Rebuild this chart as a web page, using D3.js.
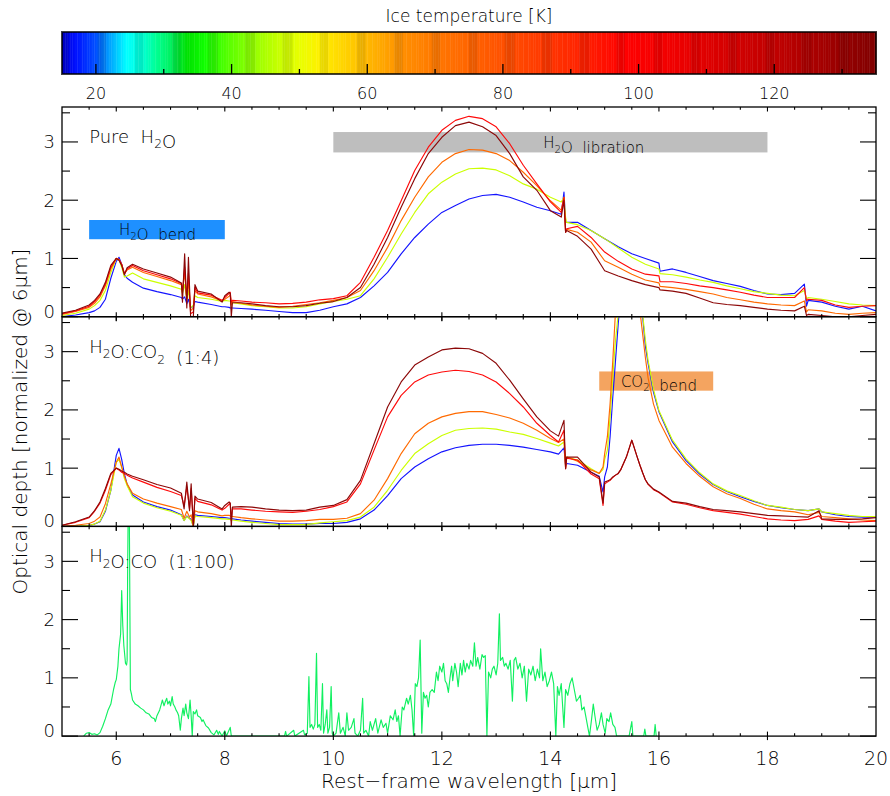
<!DOCTYPE html>
<html><head><meta charset="utf-8">
<script src="https://cdn.jsdelivr.net/npm/d3@7"></script>
<style>
body{margin:0;background:#fff;}
svg{display:block;}
text{font-family:"DejaVu Sans",sans-serif;font-weight:200;fill:#000;white-space:pre;}
</style>
</head><body>
<svg id="chart" width="890" height="796"></svg>
<script>
// ---------------- DATA ----------------
// Colour bar (ice temperature, K)
const cbDomain = [15, 135];
const cbTickLabels = [20, 40, 60, 80, 100, 120];
const cbMinorTicks = [30, 50, 70, 90, 110, 130];

// Axis tick labels
const xTickLabels = [6, 8, 10, 12, 14, 16, 18, 20];
const yTickLabels = [0, 1, 2, 3];
const panelNames = ["Pure  H_2O", "H_2O:CO_2  (1:4)", "H_2O:CO  (1:100)"];
const seriesNames = ["blue", "yellow", "orange", "red", "darkred"];

// Panel 1 : pure H2O
const wlPure = [5.0,5.25,5.5,5.6,5.7,5.8,5.9,6.0,6.05,6.1,
  6.15,6.2,6.3,6.5,6.75,7.0,7.2,7.22,7.26,7.3,
  7.33,7.37,7.42,7.45,7.5,7.75,7.95,8.0,8.08,8.1,
  8.12,8.14,8.3,8.5,8.75,9.0,9.25,9.5,9.75,10.0,
  10.25,10.5,10.75,11.0,11.25,11.5,11.75,12.0,12.25,12.5,
  12.75,13.0,13.25,13.5,13.75,14.0,14.2,14.25,14.28,14.3,
  14.5,14.75,15.0,15.25,15.5,15.75,16.0,16.02,16.25,16.5,
  16.75,17.0,17.25,17.5,17.75,18.0,18.25,18.5,18.68,18.72,
  18.75,19.0,19.25,19.5,19.75,20.0];
const pureBlue = [0.0,0.03,0.07,0.10,0.16,0.30,0.66,0.95,1.02,0.90,
  0.72,0.66,0.59,0.49,0.43,0.38,0.33,0.30,0.34,0.22,
  0.30,0.15,0.18,0.26,0.25,0.21,0.17,0.17,0.16,0.15,
  0.15,0.15,0.14,0.13,0.11,0.09,0.07,0.07,0.11,0.17,
  0.22,0.33,0.53,0.76,1.08,1.36,1.59,1.79,1.91,2.02,
  2.08,2.10,2.05,1.97,1.88,1.82,1.76,2.14,1.62,1.62,
  1.62,1.48,1.34,1.20,1.08,1.00,0.92,0.78,0.82,0.76,
  0.69,0.62,0.57,0.52,0.45,0.39,0.38,0.40,0.56,0.18,
  0.28,0.25,0.18,0.13,0.18,0.10];
const pureYellow = [0.02,0.06,0.13,0.19,0.28,0.45,0.76,1.0,0.98,0.85,
  0.68,0.70,0.75,0.65,0.59,0.53,0.47,0.40,0.55,0.30,
  0.45,0.15,0.20,0.36,0.33,0.30,0.26,0.28,0.27,0.27,
  0.25,0.24,0.22,0.19,0.17,0.15,0.15,0.17,0.22,0.26,
  0.30,0.36,0.65,1.02,1.42,1.79,2.11,2.31,2.45,2.54,
  2.55,2.52,2.42,2.28,2.19,2.05,1.97,2.05,1.70,1.62,
  1.58,1.48,1.34,1.18,1.02,0.90,0.82,0.74,0.72,0.68,
  0.63,0.59,0.53,0.48,0.43,0.40,0.37,0.36,0.45,0.30,
  0.33,0.30,0.26,0.22,0.20,0.19];
const pureOrange = [0.04,0.09,0.16,0.23,0.34,0.53,0.82,1.0,0.98,0.90,
  0.74,0.80,0.85,0.76,0.69,0.62,0.55,0.45,0.75,0.30,
  0.62,0.10,0.15,0.45,0.39,0.34,0.27,0.30,0.35,0.38,
  0.20,0.26,0.23,0.20,0.18,0.16,0.18,0.21,0.24,0.28,
  0.33,0.45,0.79,1.19,1.65,2.05,2.40,2.65,2.80,2.87,
  2.86,2.80,2.68,2.48,2.25,1.99,1.83,2.05,1.45,1.50,
  1.45,1.28,0.96,0.85,0.73,0.63,0.58,0.52,0.50,0.47,
  0.43,0.39,0.33,0.29,0.25,0.22,0.20,0.19,0.27,0.08,
  0.12,0.10,0.06,0.04,0.06,0.07];
const pureRed = [0.05,0.10,0.18,0.26,0.37,0.56,0.85,1.0,0.98,0.90,
  0.74,0.82,0.88,0.79,0.72,0.65,0.57,0.42,0.85,0.30,
  0.75,0.05,0.08,0.50,0.41,0.37,0.28,0.33,0.40,0.42,
  0.25,0.28,0.27,0.25,0.24,0.22,0.23,0.25,0.29,0.31,
  0.36,0.59,1.02,1.48,1.99,2.51,2.91,3.20,3.37,3.44,
  3.40,3.26,2.97,2.60,2.28,1.97,1.79,2.05,1.45,1.51,
  1.55,1.36,1.11,0.95,0.82,0.73,0.70,0.60,0.60,0.57,
  0.53,0.50,0.46,0.42,0.37,0.33,0.33,0.33,0.50,0.27,
  0.30,0.28,0.20,0.16,0.18,0.19];
const pureDarkRed = [0.06,0.11,0.20,0.28,0.39,0.59,0.88,1.0,0.97,0.88,
  0.72,0.84,0.90,0.82,0.75,0.68,0.58,0.25,1.08,0.15,
  1.02,0.0,0.0,0.55,0.44,0.39,0.25,0.36,0.42,0.40,
  0.0,0.24,0.24,0.22,0.19,0.17,0.17,0.19,0.23,0.26,
  0.33,0.50,0.90,1.36,1.88,2.37,2.80,3.08,3.28,3.34,
  3.26,3.11,2.80,2.40,2.17,1.82,1.71,2.00,1.45,1.48,
  1.38,1.16,0.79,0.70,0.62,0.55,0.50,0.46,0.44,0.40,
  0.32,0.24,0.21,0.19,0.16,0.13,0.11,0.10,0.18,0.02,
  0.04,0.02,0.0,0.0,0.02,0.04];

// Panel 2 : H2O:CO2 (1:4)
const wlCO2mix = [5.0,5.25,5.5,5.6,5.7,5.8,5.9,6.0,6.05,6.1,
  6.15,6.2,6.3,6.5,6.75,7.0,7.2,7.25,7.3,7.35,
  7.38,7.42,7.45,7.5,7.75,7.95,8.0,8.08,8.1,8.12,
  8.14,8.3,8.5,8.75,9.0,9.25,9.5,9.75,10.0,10.25,
  10.5,10.75,11.0,11.25,11.5,11.75,12.0,12.25,12.5,12.75,
  13.0,13.25,13.5,13.75,14.0,14.15,14.25,14.28,14.3,14.5,
  14.75,14.9,14.97,15.0,15.05,15.1,15.15,15.2,15.25,15.3,
  15.4,15.5,15.6,15.65,15.7,15.75,15.8,15.9,16.0,16.25,
  16.5,16.75,17.0,17.25,17.5,17.75,18.0,18.25,18.5,18.75,
  18.95,19.0,19.25,19.5,19.75,20.0];
const co2Blue = [0.0,0.0,0.02,0.04,0.08,0.26,0.62,1.22,1.34,1.15,
  0.90,0.72,0.54,0.42,0.34,0.28,0.20,0.10,0.18,0.14,
  0.12,0.0,0.20,0.19,0.17,0.15,0.15,0.14,0.14,0.13,
  0.13,0.11,0.09,0.07,0.05,0.04,0.04,0.05,0.05,0.07,
  0.13,0.28,0.53,0.82,1.02,1.16,1.28,1.35,1.39,1.41,
  1.41,1.39,1.36,1.32,1.28,1.24,1.35,1.05,1.08,1.05,
  0.93,0.86,0.59,0.85,1.02,1.54,2.22,2.85,3.48,4.0,
  4.6,4.9,4.6,4.2,3.6,3.1,2.8,2.3,1.97,1.45,
  1.13,0.90,0.72,0.60,0.51,0.43,0.36,0.32,0.29,0.27,
  0.30,0.25,0.20,0.17,0.16,0.16];
const co2Yellow = [0.0,0.0,0.02,0.04,0.09,0.28,0.62,1.10,1.15,1.02,
  0.82,0.70,0.51,0.40,0.32,0.26,0.19,0.10,0.17,0.13,
  0.10,0.0,0.18,0.17,0.15,0.13,0.13,0.12,0.12,0.11,
  0.11,0.09,0.07,0.05,0.03,0.03,0.03,0.06,0.08,0.10,
  0.16,0.33,0.62,0.96,1.25,1.42,1.56,1.65,1.68,1.69,
  1.67,1.62,1.58,1.51,1.43,1.38,1.45,1.05,1.19,1.14,
  0.99,0.91,0.98,1.15,1.31,1.88,2.57,3.20,3.65,4.1,
  4.7,5.0,4.6,4.2,3.65,3.2,2.85,2.35,1.99,1.48,
  1.16,0.92,0.73,0.61,0.53,0.44,0.36,0.33,0.29,0.27,
  0.30,0.25,0.22,0.19,0.17,0.17];
const co2Orange = [0.0,0.02,0.05,0.09,0.16,0.39,0.73,1.10,1.19,1.02,
  0.86,0.73,0.57,0.47,0.40,0.34,0.29,0.14,0.26,0.16,
  0.20,0.0,0.27,0.25,0.22,0.18,0.19,0.19,0.18,0.17,
  0.17,0.15,0.13,0.11,0.09,0.09,0.10,0.12,0.12,0.14,
  0.22,0.45,0.82,1.25,1.59,1.77,1.88,1.94,1.97,1.97,
  1.92,1.86,1.77,1.65,1.51,1.44,1.50,1.00,1.19,1.12,
  0.97,0.91,1.02,1.25,1.54,2.11,2.85,3.70,4.3,4.6,
  4.9,4.9,4.2,3.7,3.3,2.9,2.55,2.1,1.82,1.36,
  1.08,0.86,0.68,0.56,0.48,0.38,0.30,0.27,0.25,0.20,
  0.24,0.17,0.15,0.13,0.11,0.10];
const co2Red = [0.02,0.07,0.15,0.26,0.40,0.62,0.89,1.0,0.97,0.93,
  0.91,0.88,0.83,0.76,0.67,0.60,0.53,0.35,0.68,0.30,
  0.65,0.05,0.48,0.43,0.37,0.28,0.31,0.38,0.40,0.10,
  0.30,0.30,0.28,0.26,0.25,0.24,0.26,0.29,0.34,0.42,
  0.73,1.31,1.88,2.25,2.48,2.60,2.65,2.68,2.66,2.60,
  2.48,2.28,2.05,1.77,1.56,1.45,1.65,0.99,1.17,1.14,
  0.90,0.82,0.36,0.73,0.76,0.79,0.84,0.88,0.91,0.98,
  1.19,1.48,1.19,1.05,0.92,0.80,0.72,0.63,0.58,0.42,
  0.38,0.32,0.27,0.24,0.21,0.17,0.13,0.11,0.10,0.12,
  0.18,0.12,0.09,0.07,0.08,0.09];
const co2DarkRed = [0.02,0.08,0.16,0.27,0.42,0.65,0.91,1.0,0.98,0.95,
  0.93,0.90,0.86,0.80,0.72,0.66,0.57,0.30,0.76,0.27,
  0.73,0.0,0.52,0.47,0.41,0.30,0.36,0.42,0.40,0.0,
  0.33,0.34,0.33,0.30,0.28,0.27,0.28,0.33,0.36,0.46,
  0.79,1.42,2.05,2.48,2.77,2.91,3.03,3.06,3.05,2.97,
  2.80,2.51,2.19,1.88,1.64,1.55,1.82,0.99,1.19,1.19,
  0.93,0.85,0.40,0.76,0.78,0.80,0.85,0.88,0.91,0.98,
  1.19,1.48,1.19,1.05,0.92,0.80,0.73,0.64,0.59,0.43,
  0.40,0.34,0.29,0.27,0.25,0.22,0.19,0.18,0.17,0.16,
  0.27,0.13,0.12,0.12,0.13,0.15];

// Panel 3 : H2O:CO (1:100)
const wlCOmix = [5.4,5.45,5.5,5.55,5.6,5.65,5.7,5.75,5.8,5.85,
  5.9,5.95,5.98,6.0,6.03,6.05,6.08,6.1,6.12,6.14,
  6.17,6.19,6.2,6.21,6.22,6.24,6.26,6.28,6.3,6.35,
  6.4,6.45,6.5,6.55,6.6,6.65,6.7,6.72,6.75,6.8,
  6.83,6.85,6.88,6.9,6.93,6.95,6.98,7.0,7.03,7.05,
  7.08,7.1,7.13,7.15,7.18,7.2,7.23,7.25,7.28,7.3,
  7.33,7.36,7.38,7.4,7.42,7.45,7.48,7.5,7.55,7.58,
  7.6,7.65,7.7,7.75,7.8,7.85,7.88,7.9,7.95,8.0,
  8.03,8.1,8.12,8.6,9.1,9.12,9.14,9.27,9.29,9.45,
  9.47,9.52,9.55,9.57,9.6,9.63,9.66,9.69,9.71,9.74,
  9.77,9.8,9.82,9.85,9.88,9.9,9.93,9.96,9.98,10.0,
  10.05,10.1,10.13,10.18,10.22,10.25,10.28,10.33,10.38,10.4,
  10.45,10.5,10.54,10.56,10.6,10.65,10.68,10.72,10.78,10.82,
  10.88,10.92,10.97,11.0,11.05,11.1,11.14,11.17,11.2,11.23,
  11.27,11.3,11.35,11.38,11.42,11.45,11.48,11.51,11.54,11.57,
  11.6,11.63,11.66,11.69,11.72,11.75,11.78,11.82,11.86,11.9,
  11.93,11.96,12.0,12.03,12.06,12.09,12.12,12.15,12.18,12.2,
  12.24,12.27,12.3,12.34,12.37,12.4,12.43,12.46,12.5,12.53,
  12.57,12.6,12.63,12.66,12.7,12.74,12.77,12.8,12.83,12.86,
  12.9,12.93,12.96,13.0,13.03,13.06,13.08,13.12,13.15,13.18,
  13.22,13.26,13.3,13.33,13.36,13.4,13.44,13.48,13.52,13.56,
  13.6,13.64,13.68,13.72,13.76,13.8,13.82,13.86,13.9,13.94,
  13.98,14.02,14.06,14.1,14.13,14.16,14.2,14.25,14.28,14.32,
  14.36,14.4,14.44,14.48,14.52,14.55,14.58,14.62,14.66,14.7,
  14.72,14.76,14.79,14.82,14.86,14.9,14.94,14.97,15.01,15.04,
  15.08,15.11,15.15,15.19,15.22,15.45,15.5,15.52,15.72,15.74,
  15.76,15.91,15.93,15.95];
const coGreen = [0,0.05,0.06,0.03,0.04,0.02,0.06,0.17,0.30,0.45,
  0.55,0.80,0.92,0.97,1.2,1.5,1.75,2.5,1.9,1.55,
  1.25,1.22,1.3,2.9,3.9,3.9,0.8,0.72,0.62,0.55,
  0.52,0.48,0.45,0.40,0.38,0.32,0.30,0.25,0.35,0.45,
  0.55,0.62,0.52,0.58,0.65,0.55,0.60,0.52,0.68,0.55,
  0.50,0.45,0.40,0.35,0.10,0.30,0.48,0.35,0.55,0.40,
  0.30,0.62,0.35,0.0,0.42,0.38,0.45,0.35,0.32,0.25,
  0.28,0.18,0.14,0.06,0.02,0.10,0.03,0.08,0.0,0.09,
  0.0,0.15,0.0,0.0,0.0,0.08,0.0,0.1,0.0,0.1,
  0.02,0.05,1.02,0.15,0.2,0.12,0.2,1.42,0.15,0.2,
  0.1,0.9,0.05,0.2,0.45,0.05,0.15,0.85,0.05,0.0,
  0.05,0.4,0.05,0.15,0.0,0.4,0.1,0.15,0.3,0.05,
  0.0,0.1,0.65,0.05,0.1,0.0,0.25,0.1,0.3,0.05,
  0.28,0.15,0.22,0.05,0.35,0.28,0.45,0.25,0.35,0.0,
  0.5,0.45,0.65,0.55,0.7,0.45,0.0,0.9,0.85,1.0,
  1.65,0.05,0.75,0.65,0.7,0.5,0.75,0.8,0.75,1.1,
  0.95,1.2,1.1,1.25,0.95,0.9,0.75,1.0,1.2,0.95,
  1.25,1.1,0.85,1.25,1.05,1.3,1.1,1.25,1.15,1.3,
  1.2,1.6,1.2,1.35,1.15,1.4,1.35,1.38,0.0,1.1,
  1.0,1.15,1.2,1.05,1.25,2.1,1.3,1.35,1.2,1.25,
  1.15,1.3,0.6,1.3,1.35,1.15,1.25,1.0,1.2,0.6,
  1.15,1.05,1.2,0.95,1.15,1.0,1.5,0.95,1.1,0.85,
  0.95,1.1,0.9,0.0,0.85,0.7,0.9,0.15,0.8,0.7,
  0.9,1.0,0.8,0.6,0.65,0.7,0.45,0.5,0.3,0.1,
  0.0,0.3,0.55,0.35,0.1,0.2,0.4,0.2,0.05,0.3,
  0.25,0.4,0.2,0.15,0.0,0.0,0.25,0.0,0.0,0.12,
  0.0,0.0,0.2,0.0];

// Feature bands (data units: wavelength range and optical-depth range)
const bandNames = ["H_2O  bend", "H_2O  libration", "CO_2  bend"];
const bandPanel = [0, 0, 1];
const bandWl = [[5.5, 8.0], [10.0, 18.0], [14.9, 17.0]];
const bandTau = [[1.33, 1.66], [2.82, 3.17], [2.33, 2.66]];
const bandLabelWl = [6.76, 14.8, 16.0];

// ---------------- STYLE ----------------
const lineColors = {blue:"#1414ff", yellow:"#ccff00", orange:"#ff6a00", red:"#ff0a0a", darkred:"#8c0808"};
const greenColor = "#10f060";
const bandColors = ["#1e90ff", "#bebebe", "#f4a460"];
const cbStopsT = [15,17,20,22,24.5,27,29,31,33.5,36,40,43,47,50,53,57,61,65,70,75,80,86,92,98,105,112,120,128,135];
const cbStopsC = ["#0000d0","#0010ff","#0050ff","#00a0ff","#00ffff","#00ffd0","#00ff90","#00f060","#00e000","#10ff00",
  "#60ff00","#90ff00","#c8ff00","#e8ff00","#fff000","#ffd000","#ffb000","#ff9000","#ff7800","#ff6400",
  "#ff5000","#ff3800","#ff2000","#ff0000","#f00000","#d80000","#c00000","#a00000","#800000"];

// ---------------- DRAW ----------------
const svg = d3.select("#chart");
const L = 62, R = 876;
const x = d3.scaleLinear().domain([5, 20]).range([L, R]);

function richText(sel, str, fs) {
  const parts = str.split(/_(\d)/);
  const sh = fs * 0.3;
  parts.forEach((p, i) => {
    if (p === "") return;
    if (i % 2 === 1) {
      sel.append("tspan").attr("dy", sh).style("font-size", (fs * 0.68) + "px").text(p);
      sel.append("tspan").attr("dy", -sh).text("");
    } else {
      sel.append("tspan").text(p);
    }
  });
}

// Colour bar
const cbTop = 32, cbBot = 74;
const cbX = d3.scaleLinear().domain(cbDomain).range([L, R]);
const cbColor = d3.scaleLinear().domain(cbStopsT).range(cbStopsC).interpolate(d3.interpolateRgb);
const cbG = svg.append("g");
const step = 0.25;
for (let t = cbDomain[0]; t < cbDomain[1]; t += step) {
  let c = d3.color(cbColor(t + step / 2));
  const ph = (((t - 14.6) % 5.47) + 5.47) % 5.47;
  if (ph < 1.35) c = c.darker(0.25);
  cbG.append("rect").attr("x", cbX(t)).attr("y", cbTop)
    .attr("width", cbX(t + step) - cbX(t) + 0.4).attr("height", cbBot - cbTop)
    .attr("fill", c.formatHex());
}
cbG.append("rect").attr("x", L).attr("y", cbTop).attr("width", R - L).attr("height", cbBot - cbTop)
  .attr("fill", "none").attr("stroke", "#000").attr("stroke-opacity", 0.75).attr("stroke-width", 2);
cbTickLabels.forEach(t => {
  cbG.append("line").attr("x1", cbX(t)).attr("x2", cbX(t)).attr("y1", cbBot).attr("y2", cbBot - 10)
    .attr("stroke", "#000").attr("stroke-width", 1.3);
  cbG.append("text").attr("x", cbX(t)).attr("y", 99).attr("text-anchor", "middle")
    .style("font-size", "16px").text(t);
});
cbMinorTicks.forEach(t => {
  cbG.append("line").attr("x1", cbX(t)).attr("x2", cbX(t)).attr("y1", cbBot).attr("y2", cbBot - 5)
    .attr("stroke", "#000").attr("stroke-width", 1.3);
});
svg.append("text").attr("x", 469).attr("y", 22).attr("text-anchor", "middle")
  .style("font-size", "17px").text("Ice temperature [K]");

// Panels
const panelTop = 107, panelH = 209.7;
const panelSeries = [
  {wl: wlPure, vals: [pureBlue, pureYellow, pureOrange, pureRed, pureDarkRed]},
  {wl: wlCO2mix, vals: [co2Blue, co2Yellow, co2Orange, co2Red, co2DarkRed]},
  {wl: wlCOmix, vals: [coGreen]}
];
const defs = svg.append("defs");

panelSeries.forEach((ps, i) => {
  const top = panelTop + i * panelH, bot = top + panelH;
  const y = d3.scaleLinear().domain([0, 3.6]).range([bot, top]);
  const g = svg.append("g");
  defs.append("clipPath").attr("id", "clip" + i).append("rect")
    .attr("x", L).attr("y", top).attr("width", R - L).attr("height", panelH);

  // feature bands
  bandNames.forEach((nm, k) => {
    if (bandPanel[k] !== i) return;
    const y1 = y(bandTau[k][1]), y2 = y(bandTau[k][0]);
    g.append("rect").attr("x", x(bandWl[k][0])).attr("y", y1)
      .attr("width", x(bandWl[k][1]) - x(bandWl[k][0])).attr("height", y2 - y1)
      .attr("fill", bandColors[k]);
    const t = g.append("text").attr("x", x(bandLabelWl[k])).attr("y", y2 - 4)
      .attr("text-anchor", "middle").style("font-size", "15px");
    richText(t, nm, 15);
  });

  // lines
  const lg = g.append("g").attr("clip-path", "url(#clip" + i + ")");
  ps.vals.forEach((v, k) => {
    const n = Math.min(v.length, ps.wl.length);
    const pts = d3.range(n).map(j => [ps.wl[j], v[j]]);
    const col = (i === 2) ? greenColor : lineColors[seriesNames[k]];
    lg.append("path").attr("d", d3.line().x(d => x(d[0])).y(d => y(d[1]))(pts))
      .attr("fill", "none").attr("stroke", col).attr("stroke-width", 1.15)
      .attr("stroke-linejoin", "round");
  });

  // frame
  g.append("rect").attr("x", L).attr("y", top).attr("width", R - L).attr("height", panelH)
    .attr("fill", "none").attr("stroke", "#000").attr("stroke-width", 1.3);

  // x ticks
  d3.range(5.5, 20, 0.5).forEach(w => {
    const major = Math.abs(w / 2 - Math.round(w / 2)) < 1e-6;
    const len = major ? 4.5 : 2.8;
    g.append("line").attr("x1", x(w)).attr("x2", x(w)).attr("y1", bot + (major ? 4 : 0)).attr("y2", bot - len)
      .attr("stroke", "#000").attr("stroke-width", 1.1);
    g.append("line").attr("x1", x(w)).attr("x2", x(w)).attr("y1", top).attr("y2", top + len)
      .attr("stroke", "#000").attr("stroke-width", 1.1);
  });
  // y ticks
  d3.range(0, 3.6, 0.5).forEach(v => {
    const major = Math.abs(v - Math.round(v)) < 1e-6;
    const len = major ? 16 : 8;
    g.append("line").attr("x1", L).attr("x2", L + len).attr("y1", y(v)).attr("y2", y(v))
      .attr("stroke", "#000").attr("stroke-width", 1.1);
    g.append("line").attr("x1", R).attr("x2", R - len).attr("y1", y(v)).attr("y2", y(v))
      .attr("stroke", "#000").attr("stroke-width", 1.1);
  });
  yTickLabels.forEach(v => {
    g.append("text").attr("x", 55).attr("y", y(v) + (v === 0 ? 1 : 6.5))
      .attr("text-anchor", "end").style("font-size", "18px").text(v);
  });

  // panel name
  const pt = g.append("text").attr("x", x(5.5)).attr("y", top + 36).style("font-size", "18px");
  richText(pt, panelNames[i], 18);

  if (i === 2) {
    xTickLabels.forEach(w => {
      g.append("text").attr("x", x(w)).attr("y", bot + 29).attr("text-anchor", "middle")
        .style("font-size", "19px").text(w);
    });
  }
});

// axis titles
svg.append("text").attr("x", 469).attr("y", 788).attr("text-anchor", "middle")
  .style("font-size", "20px").text("Rest\u2212frame wavelength [\u03bcm]");
svg.append("text").attr("transform", "translate(27," + (panelTop + 1.5 * panelH) + ") rotate(-90)")
  .attr("text-anchor", "middle").style("font-size", "20px").text("Optical depth [normalized @ 6\u03bcm]");
</script>
</body></html>
